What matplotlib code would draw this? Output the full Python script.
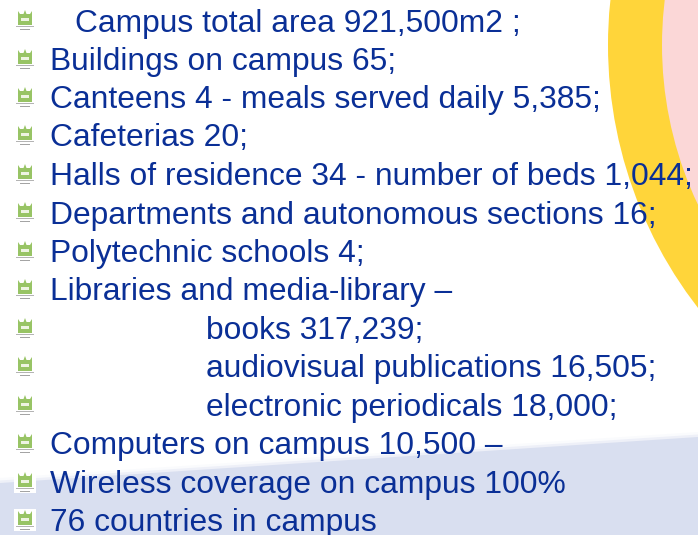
import matplotlib
matplotlib.use("Agg")
import matplotlib.pyplot as plt
from matplotlib.patches import Circle, Polygon, Rectangle

lines = [
    "Campus total area 921,500m2 ;",
    "Buildings on campus 65;",
    "Canteens 4 - meals served daily 5,385;",
    "Cafeterias 20;",
    "Halls of residence 34 - number of beds 1,044;",
    "Departments and autonomous sections 16;",
    "Polytechnic schools 4;",
    "Libraries and media-library –",
    "books 317,239;",
    "audiovisual publications 16,505;",
    "electronic periodicals 18,000;",
    "Computers on campus 10,500 –",
    "Wireless coverage on campus 100%",
    "76 countries in campus",
]
text_x = [75, 50, 50, 50, 50, 50, 50, 50, 206, 206, 206, 50, 50, 50]
baselines = [32, 70, 108, 146, 185, 224, 262, 300, 339, 377, 416, 454, 493, 531]
icon_y = [17, 56, 94, 132, 171, 209, 248, 286, 325, 363, 402, 440, 479, 517]

BLUE = "#0a2f96"
GREEN = "#98c465"

fig = plt.figure(figsize=(6.98, 5.35), dpi=100)
ax = fig.add_axes([0, 0, 1, 1])
ax.set_xlim(0, 698)
ax.set_ylim(535, 0)
ax.axis("off")

# background shapes
ax.add_patch(Circle((1037, 45), 429, fc="#ffd53a", ec="none", zorder=1))
ax.add_patch(Circle((1035, 45), 373, fc="#fbd7d7", ec="none", zorder=2))

# bottom band, top edge slightly soft
for off, col in [(-5, "#fafbfd"), (-2.5, "#eef0f8"), (0, "#d9dff0")]:
    ax.add_patch(Polygon([(0, 483 + off), (698, 437 + off), (698, 535), (0, 535)],
                         fc=col, ec="none", zorder=3))


def draw_icon(cy, boxed):
    cx = 25
    if boxed:
        ax.add_patch(Rectangle((cx - 11, cy - 8), 22, 22, fc="white", ec="none", zorder=4))
    # castle
    ax.add_patch(Polygon([(cx - 7, cy - 6), (cx - 5, cy - 3), (cx - 1.5, cy - 3), (cx, cy - 7),
                          (cx + 1.5, cy - 3), (cx + 5, cy - 3), (cx + 7, cy - 6), (cx + 7, cy + 8),
                          (cx - 7, cy + 8)], fc=GREEN, ec="none", zorder=5))
    ax.add_patch(Rectangle((cx - 4, cy + 1), 8, 3, fc="#eef4e2", ec="none", zorder=6))
    # tiny caption
    ax.add_patch(Rectangle((cx - 9, cy + 9), 18, 1.2, fc="#b4b4b4", ec="none", zorder=5))
    ax.add_patch(Rectangle((cx - 5, cy + 12), 10, 1.2, fc="#a4a4a4", ec="none", zorder=5))


for i, y in enumerate(icon_y):
    draw_icon(y, i >= 12)

for s, x, y in zip(lines, text_x, baselines):
    ax.text(x, y, s, family="Liberation Sans", fontsize=22.9, color=BLUE,
            ha="left", va="baseline", zorder=7)

fig.savefig("out.png", dpi=100)
